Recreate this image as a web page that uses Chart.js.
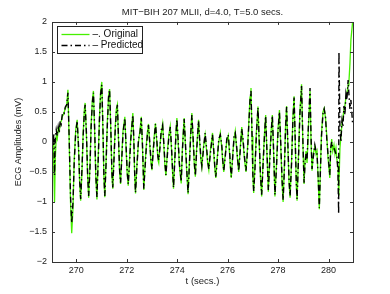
<!DOCTYPE html>
<html>
<head>
<meta charset="utf-8">
<script src="https://cdn.jsdelivr.net/npm/chart.js@4"></script>
<style>
  html, body { margin: 0; padding: 0; background: #fff; }
  canvas { display: block; }
</style>
</head>
<body>
<canvas id="ecg" width="390" height="294"></canvas>
<script>
// ECG window, MIT-BIH record 207 (MLII)
const timeSecs = [
  269.050, 269.082, 269.113, 269.141, 269.169, 269.208, 269.248, 269.287, 269.327, 269.366,
  269.406, 269.445, 269.485, 269.524, 269.564, 269.623, 269.671, 269.722, 269.774, 269.821,
  269.872, 269.920, 269.979, 270.038, 270.090, 270.137, 270.176, 270.228, 270.275, 270.323,
  270.354, 270.405, 270.453, 270.493, 270.544, 270.591, 270.639, 270.682, 270.729, 270.777,
  270.821, 270.868, 270.920, 270.967, 271.014, 271.058, 271.097, 271.133, 271.184, 271.235,
  271.283, 271.323, 271.370, 271.414, 271.449, 271.501, 271.552, 271.592, 271.631, 271.678,
  271.718, 271.758, 271.809, 271.856, 271.927, 271.975, 272.022, 272.062, 272.113, 272.164,
  272.244, 272.283, 272.319, 272.350, 272.409, 272.469, 272.528, 272.580, 272.627, 272.678,
  272.726, 272.777, 272.817, 272.864, 272.923, 272.963, 273.002, 273.054, 273.101, 273.141,
  273.192, 273.240, 273.271, 273.319, 273.370, 273.425, 273.477, 273.516, 273.556, 273.607,
  273.666, 273.726, 273.773, 273.817, 273.856, 273.903, 273.951, 273.990, 274.038, 274.089,
  274.161, 274.208, 274.247, 274.279, 274.326, 274.386, 274.433, 274.484, 274.536, 274.583,
  274.630, 274.682, 274.722, 274.773, 274.848, 274.892, 274.939, 274.979, 275.038, 275.109,
  275.168, 275.208, 275.255, 275.315, 275.402, 275.453, 275.492, 275.532, 275.591, 275.650,
  275.710, 275.769, 275.808, 275.848, 275.907, 275.967, 276.026, 276.078, 276.113, 276.145,
  276.204, 276.255, 276.303, 276.354, 276.402, 276.441, 276.500, 276.560, 276.611, 276.670,
  276.730, 276.789, 276.837, 276.888, 276.927, 276.967, 277.002, 277.034, 277.085, 277.144,
  277.204, 277.251, 277.303, 277.350, 277.409, 277.468, 277.508, 277.559, 277.615, 277.666,
  277.726, 277.773, 277.825, 277.876, 277.935, 277.995, 278.054, 278.109, 278.161, 278.200,
  278.251, 278.299, 278.338, 278.390, 278.437, 278.477, 278.536, 278.587, 278.635, 278.686,
  278.725, 278.753, 278.804, 278.864, 278.931, 278.982, 279.030, 279.070, 279.109, 279.149,
  279.200, 279.267, 279.307, 279.346, 279.397, 279.457, 279.504, 279.544, 279.591, 279.635,
  279.674, 279.722, 279.781, 279.828, 279.880, 279.931, 279.978, 280.018, 280.050, 280.085,
  280.125, 280.168, 280.216, 280.255, 280.295, 280.334, 280.374, 280.401, 280.413, 280.453,
  280.492, 280.532, 280.571, 280.611, 280.650, 280.690, 280.729, 280.777, 280.808, 280.848,
  280.887, 280.955
];

const originalMv = [
  0.05, 0.0, -0.45, -1.0, -0.3, 0.1, 0.05, 0.22, 0.18, 0.3,
  0.35, 0.42, 0.45, 0.5, 0.55, 0.62, 0.87, 0.0, -1.0, -1.52,
  -1.1, -0.3, 0.2, 0.37, -0.1, -0.7, -0.98, -0.5, 0.15, 0.55,
  0.65, 0.1, -0.6, -0.93, -0.4, 0.3, 0.7, 0.85, 0.2, -0.6,
  -0.96, -0.3, 0.4, 0.85, 1.0, 0.2, -0.6, -0.92, -0.3, 0.35,
  0.78, 0.88, 0.2, -0.55, -0.78, -0.2, 0.3, 0.55, 0.62, 0.0,
  -0.5, -0.7, -0.2, 0.2, 0.42, -0.1, -0.55, -0.73, -0.3, 0.1,
  0.48, 0.0, -0.6, -0.86, -0.35, 0.0, 0.2, 0.42, -0.1, -0.8,
  -0.4, -0.05, 0.15, 0.3, -0.1, -0.35, -0.47, -0.1, 0.15, 0.31,
  0.0, -0.3, -0.35, -0.05, 0.15, 0.3, -0.1, -0.4, -0.56, -0.2,
  0.1, 0.26, -0.1, -0.5, -0.78, -0.3, 0.15, 0.4, 0.0, -0.4,
  -0.69, -0.1, 0.2, 0.4, -0.05, -0.55, -0.87, -0.35, 0.15, 0.48,
  0.05, -0.4, -0.58, -0.1, 0.37, 0.0, -0.3, -0.42, -0.1, 0.12,
  -0.15, -0.35, -0.47, -0.15, 0.15, -0.2, -0.45, -0.6, -0.25, 0.0,
  0.15, -0.1, -0.35, -0.5, -0.2, 0.0, 0.1, -0.2, -0.45, -0.6,
  -0.2, 0.05, 0.18, -0.1, -0.35, -0.5, -0.1, 0.25, 0.0, -0.3,
  -0.5, -0.1, 0.3, 0.75, 0.9, 0.1, -0.6, -0.85, -0.4, 0.2,
  0.59, 0.0, -0.6, -0.91, -0.3, 0.2, 0.45, -0.2, -0.83, -0.3,
  0.2, 0.45, -0.2, -0.91, -0.4, 0.2, 0.53, -0.1, -0.7, -1.0,
  -0.4, 0.3, 0.6, -0.1, -0.7, -0.93, -0.3, 0.4, 0.76, -0.1,
  -0.75, -0.98, -0.3, 0.5, 0.96, 0.0, -0.7, -0.3, -0.15, -0.35,
  0.2, 0.85, 0.0, -0.48, -0.2, -0.08, -0.2, -0.15, -0.65, -1.12,
  -0.5, 0.15, 0.5, 0.56, 0.4, 0.1, -0.25, -0.45, -0.6, -0.15,
  0.05, -0.15, -0.05, -0.2, -0.1, -0.3, -0.4, -0.88, -0.7, -0.1,
  0.1, 0.3, 0.4, 0.55, 0.6, 0.75, 0.8, 0.95, 1.0, 1.3,
  1.7, 2.0
];

const predictedMv = [
  0.10, -0.05, 0.15, -0.55, 0.05, 0.2, 0.1, 0.25, 0.15, 0.35,
  0.3, 0.45, 0.5, 0.48, 0.58, 0.62, 0.82, 0.05, -0.9, -1.35,
  -1.0, -0.35, 0.15, 0.35, -0.05, -0.65, -0.95, -0.45, 0.1, 0.5,
  0.62, 0.15, -0.55, -0.9, -0.45, 0.25, 0.65, 0.82, 0.25, -0.55,
  -0.92, -0.35, 0.35, 0.8, 0.95, 0.25, -0.55, -0.9, -0.35, 0.3,
  0.75, 0.87, 0.25, -0.5, -0.76, -0.25, 0.25, 0.5, 0.62, 0.05,
  -0.45, -0.68, -0.25, 0.15, 0.4, -0.05, -0.5, -0.7, -0.35, 0.05,
  0.45, 0.05, -0.55, -0.84, -0.4, 0.05, 0.15, 0.4, -0.05, -0.78,
  -0.45, -0.1, 0.1, 0.28, -0.05, -0.3, -0.45, -0.15, 0.1, 0.3,
  0.05, -0.25, -0.3, -0.1, 0.2, 0.28, -0.05, -0.35, -0.55, -0.25,
  0.05, 0.25, -0.05, -0.45, -0.76, -0.35, 0.1, 0.38, 0.05, -0.35,
  -0.66, -0.15, 0.15, 0.38, 0.0, -0.5, -0.85, -0.4, 0.1, 0.45,
  0.1, -0.35, -0.56, -0.15, 0.35, 0.05, -0.25, -0.4, -0.15, 0.15,
  -0.1, -0.3, -0.45, -0.2, 0.12, -0.15, -0.4, -0.58, -0.3, 0.05,
  0.12, -0.05, -0.3, -0.48, -0.25, 0.05, 0.12, -0.15, -0.4, -0.58,
  -0.25, 0.1, 0.15, -0.05, -0.3, -0.48, -0.15, 0.22, 0.05, -0.25,
  -0.48, -0.15, 0.25, 0.7, 0.85, 0.15, -0.55, -0.82, -0.45, 0.15,
  0.57, 0.05, -0.55, -0.88, -0.35, 0.15, 0.43, -0.15, -0.8, -0.35,
  0.15, 0.44, -0.15, -0.88, -0.45, 0.15, 0.5, -0.05, -0.65, -0.97,
  -0.45, 0.25, 0.58, -0.05, -0.65, -0.9, -0.35, 0.35, 0.74, -0.05,
  -0.7, -0.95, -0.35, 0.45, 0.93, 0.05, -0.68, -0.35, -0.2, -0.3,
  0.25, 0.9, 0.1, -0.45, -0.25, -0.05, -0.15, -0.2, -0.6, -1.1,
  -0.55, 0.1, 0.48, 0.55, 0.42, 0.05, -0.2, -0.4, -0.55, -0.1,
  0.0, -0.1, -0.1, -0.15, -0.2, -0.25, -0.5, -1.2, 1.5, 0.2,
  0.0, 0.35, 0.25, 0.6, 0.45, 0.8, 0.7, 1.03, 0.8, 0.55,
  0.7, 0.3
];

const xTickValues = [270, 272, 274, 276, 278, 280];
const yTickValues = [-2, -1.5, -1, -0.5, 0, 0.5, 1, 1.5, 2];
const seriesLabels = ['\u2013. Original', '\u2013 Predicted'];

const GREEN = 'rgb(70,240,0)';
const DASHDOT = [6, 3, 1.5, 3];
const FONT = '"Liberation Sans", Arial, sans-serif';
const minus = s => String(s).replace('-', '\u2212');

// MATLAB-like box, inward ticks and legend
const matlabFrame = {
  id: 'matlabFrame',
  afterDatasetsDraw(chart) {
    const {ctx, chartArea: a, scales: {x, y}} = chart;
    ctx.save();
    ctx.strokeStyle = '#333';
    ctx.lineWidth = 1;
    ctx.strokeRect(Math.round(a.left) + 0.5, Math.round(a.top) + 0.5,
      Math.round(a.right - a.left), Math.round(a.bottom - a.top));
    ctx.beginPath();
    x.ticks.forEach(t => {
      const px = Math.round(x.getPixelForValue(t.value)) + 0.5;
      ctx.moveTo(px, a.bottom); ctx.lineTo(px, a.bottom - 3);
      ctx.moveTo(px, a.top); ctx.lineTo(px, a.top + 3);
    });
    y.ticks.forEach(t => {
      const py = Math.round(y.getPixelForValue(t.value)) + 0.5;
      ctx.moveTo(a.left, py); ctx.lineTo(a.left + 3, py);
      ctx.moveTo(a.right, py); ctx.lineTo(a.right - 3, py);
    });
    ctx.stroke();

    // legend
    const lx = Math.round(a.left) + 5.5, ly = Math.round(a.top) + 4.5;
    ctx.fillStyle = '#fff';
    ctx.fillRect(lx, ly, 85, 27);
    ctx.strokeStyle = '#222';
    ctx.strokeRect(lx, ly, 85, 27);
    const rows = [
      {label: seriesLabels[0], color: GREEN, dash: [], dy: 8},
      {label: seriesLabels[1], color: '#000', dash: DASHDOT, dy: 19}
    ];
    ctx.font = '10px ' + FONT;
    ctx.textBaseline = 'middle';
    rows.forEach(r => {
      ctx.beginPath();
      ctx.setLineDash(r.dash);
      ctx.strokeStyle = r.color;
      ctx.lineWidth = 1.3;
      ctx.moveTo(lx + 4, ly + r.dy);
      ctx.lineTo(lx + 32, ly + r.dy);
      ctx.stroke();
      ctx.setLineDash([]);
      ctx.fillStyle = '#111';
      ctx.fillText(r.label, lx + 35, ly + r.dy);
    });
    ctx.restore();
  }
};

new Chart(document.getElementById('ecg'), {
  type: 'line',
  data: {
    datasets: [
      {
        label: seriesLabels[1],
        data: timeSecs.map((t, i) => ({x: t, y: predictedMv[i]})),
        borderColor: '#000',
        borderWidth: 1.4,
        borderDash: DASHDOT,
        pointRadius: 0,
        tension: 0
      },
      {
        label: seriesLabels[0],
        data: timeSecs.map((t, i) => ({x: t, y: originalMv[i]})),
        borderColor: GREEN,
        borderWidth: 1.3,
        pointRadius: 0,
        tension: 0
      }
    ]
  },
  options: {
    responsive: false,
    animation: false,
    devicePixelRatio: 1,
    layout: {padding: {left: 0, right: 37, top: 0, bottom: 0}},
    plugins: {
      legend: {display: false},
      tooltip: {enabled: false},
      title: {
        display: true,
        fullSize: false,
        text: 'MIT\u2212BIH 207 MLII, d=4.0, T=5.0 secs.',
        color: '#222',
        font: {family: FONT, size: 9.5, weight: 'normal'},
        padding: {top: 6.5, bottom: 4}
      }
    },
    scales: {
      x: {
        type: 'linear',
        min: 269.04,
        max: 280.97,
        afterFit: s => { s.height = 32; },
        afterBuildTicks: s => { s.ticks = xTickValues.map(v => ({value: v})); },
        grid: {display: false, drawTicks: false},
        border: {display: false},
        ticks: {
          padding: 3,
          maxRotation: 0,
          color: '#222',
          font: {family: FONT, size: 9},
          callback: v => minus(v)
        },
        title: {
          display: true,
          text: 't (secs.)',
          color: '#222',
          font: {family: FONT, size: 9.5},
          padding: {top: 0, bottom: 7}
        }
      },
      y: {
        min: -2,
        max: 2,
        afterFit: s => { s.width = 52; },
        afterBuildTicks: s => { s.ticks = yTickValues.map(v => ({value: v})); },
        grid: {display: false, drawTicks: false},
        border: {display: false},
        ticks: {
          padding: 5,
          color: '#222',
          font: {family: FONT, size: 9},
          callback: v => minus(v)
        },
        title: {
          display: true,
          text: 'ECG Amplitudes (mV)',
          color: '#222',
          font: {family: FONT, size: 9},
          padding: {top: 13, bottom: 0}
        }
      }
    }
  },
  plugins: [matlabFrame]
});
</script>
</body>
</html>
